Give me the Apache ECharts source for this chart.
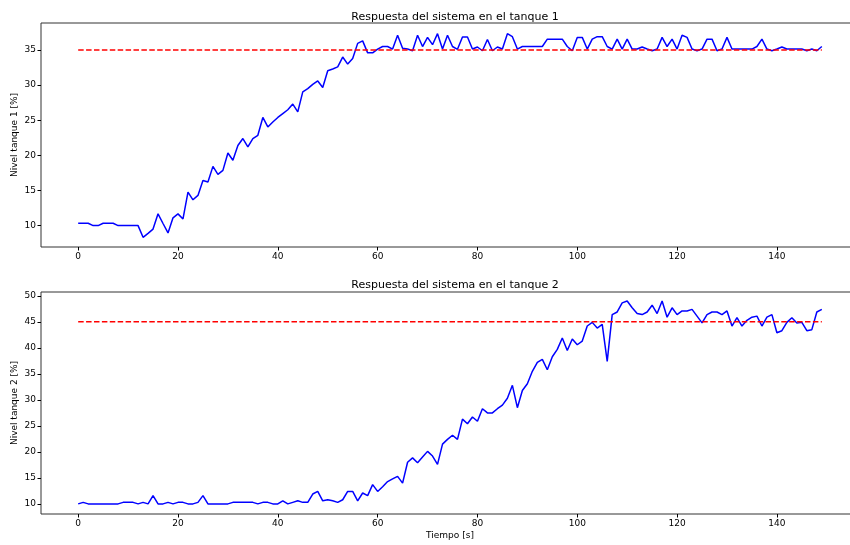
<!DOCTYPE html>
<html>
<head>
    <meta http-equiv=Content-Type content="text/html; charset=utf-8">
    <title>Respuesta del sistema</title>
    <script type="text/javascript" src="https://cdn.jsdelivr.net/npm/echarts@6/dist/echarts.min.js"></script>
    <style>
        html, body { margin: 0; padding: 0; background: #fff; }
        #chartmain { width: 850px; height: 545px; }
    </style>
</head>
<body>
<div id="chartmain"></div>

<script type="text/javascript">
    // nivel del tanque 1 [%], una muestra por segundo
    var nivel1 = [
        10.33, 10.33, 10.33, 10.0, 10.0, 10.33, 10.33, 10.33, 10.0, 10.0,
        10.0, 10.0, 10.0, 8.33, 8.9, 9.5, 11.67, 10.3, 8.95, 11.1,
        11.67, 10.95, 14.76, 13.67, 14.3, 16.43, 16.2, 18.43, 17.3, 17.86,
        20.33, 19.3, 21.4, 22.4, 21.2, 22.4, 22.86, 25.4, 24.05, 24.76,
        25.4, 25.95, 26.5, 27.3, 26.2, 29.05, 29.5, 30.1, 30.6, 29.67,
        32.05, 32.3, 32.6, 34.0, 33.0, 33.8, 35.95, 36.3, 34.6, 34.6,
        35.14, 35.5, 35.5, 35.14, 37.1, 35.24, 35.14, 34.9, 37.1, 35.5,
        36.8, 35.76, 37.33, 35.14, 37.1, 35.5, 35.1, 36.86, 36.86, 35.14,
        35.43, 34.9, 36.5, 34.9, 35.43, 35.14, 37.33, 36.9, 35.14, 35.5,
        35.5, 35.5, 35.5, 35.5, 36.55, 36.55, 36.55, 36.55, 35.5, 34.9,
        36.8, 36.8, 35.14, 36.55, 36.9, 36.9, 35.5, 35.14, 36.55, 35.14,
        36.55, 35.14, 35.14, 35.43, 35.14, 34.9, 35.14, 36.8, 35.5, 36.55,
        35.14, 37.1, 36.8, 35.14, 34.9, 35.14, 36.55, 36.55, 34.9, 35.14,
        36.8, 35.14, 35.14, 35.14, 35.14, 35.14, 35.5, 36.55, 35.14, 34.9,
        35.14, 35.43, 35.14, 35.14, 35.14, 35.14, 34.9, 35.14, 34.9, 35.5
    ];
    // nivel del tanque 2 [%]
    var nivel2 = [
        10.0, 10.3, 10.0, 10.0, 10.0, 10.0, 10.0, 10.0, 10.0, 10.3,
        10.3, 10.3, 10.0, 10.3, 10.0, 11.6, 10.0, 10.0, 10.3, 10.0,
        10.3, 10.3, 10.0, 10.0, 10.3, 11.6, 10.0, 10.0, 10.0, 10.0,
        10.0, 10.3, 10.3, 10.3, 10.3, 10.3, 10.0, 10.3, 10.3, 10.0,
        10.0, 10.6, 10.0, 10.3, 10.6, 10.3, 10.3, 11.9, 12.4, 10.6,
        10.8, 10.6, 10.3, 10.8, 12.4, 12.4, 10.6, 12.1, 11.6, 13.7,
        12.4, 13.3, 14.3, 14.8, 15.3, 14.0, 18.0, 18.85, 17.9, 19.0,
        20.1, 19.2, 17.6, 21.5, 22.4, 23.2, 22.4, 26.3, 25.4, 26.7,
        25.9, 28.3, 27.5, 27.5, 28.3, 29.0, 30.3, 32.8, 28.5, 31.8,
        33.1, 35.5, 37.2, 37.8, 35.8, 38.3, 39.7, 41.9, 39.5, 41.7,
        40.6, 41.3, 44.2, 44.9, 43.8, 44.5, 37.4, 46.4, 46.9, 48.65,
        49.0, 47.7, 46.6, 46.4, 46.9, 48.2, 46.6, 49.0, 45.9, 47.7,
        46.4, 47.1, 47.1, 47.4, 46.1, 44.8, 46.4, 46.9, 46.9, 46.4,
        47.1, 44.2, 45.8, 44.2, 45.3, 45.9, 46.1, 44.2, 45.9, 46.4,
        42.9, 43.3, 44.9, 45.8, 44.8, 44.9, 43.3, 43.5, 46.9, 47.4
    ];
    // referencias
    var ref1 = 35;
    var ref2 = 45;
    var tiempoTicks = [0, 20, 40, 60, 80, 100, 120, 140];
    var ticks1 = [10, 15, 20, 25, 30, 35];
    var ticks2 = [10, 15, 20, 25, 30, 35, 40, 45, 50];

    var fuente = 'DejaVu Sans';
    var tFin = nivel1.length - 1;

    function puntos(arr) {
        return arr.map(function (v, i) { return [i, v]; });
    }

    function ejeX(idx, nombre) {
        return {
            type: 'value', gridIndex: idx,
            min: -7.45, max: 156.45,
            name: nombre, nameLocation: 'middle', nameGap: 17,
            nameTextStyle: {fontFamily: fuente, fontSize: 9, color: '#000'},
            axisLine: {show: false, onZero: false},
            splitLine: {show: false},
            axisTick: {show: true, length: 3.5, customValues: tiempoTicks, lineStyle: {color: '#000'}},
            axisLabel: {customValues: tiempoTicks, fontFamily: fuente, fontSize: 9, color: '#000', margin: 5}
        };
    }

    function ejeY(idx, nombre, min, max, ticks) {
        return {
            type: 'value', gridIndex: idx,
            min: min, max: max,
            name: nombre, nameLocation: 'middle', nameGap: 22, nameMoveOverlap: false,
            nameTextStyle: {fontFamily: fuente, fontSize: 9, color: '#000'},
            axisLine: {show: false, onZero: false},
            splitLine: {show: false},
            axisTick: {show: true, length: 3.5, customValues: ticks, lineStyle: {color: '#000'}},
            axisLabel: {customValues: ticks, fontFamily: fuente, fontSize: 9, color: '#000', margin: 5}
        };
    }

    var myChart = echarts.init(document.getElementById('chartmain'));
    var option = {
        animation: false,
        backgroundColor: '#fff',
        title: [
            {text: 'Respuesta del sistema en el tanque 1', left: 450, top: 7, textAlign: 'center',
                textStyle: {fontFamily: fuente, fontSize: 11, fontWeight: 'normal', color: '#000'}},
            {text: 'Respuesta del sistema en el tanque 2', left: 450, top: 275, textAlign: 'center',
                textStyle: {fontFamily: fuente, fontSize: 11, fontWeight: 'normal', color: '#000'}}
        ],
        grid: [
            {left: 41, top: 23, width: 818, height: 224, show: true, borderColor: '#333', borderWidth: 1,
                outerBoundsMode: 'none'},
            {left: 41, top: 292, width: 818, height: 222, show: true, borderColor: '#333', borderWidth: 1,
                outerBoundsMode: 'none'}
        ],
        xAxis: [ejeX(0, ''), ejeX(1, 'Tiempo [s]')],
        yAxis: [
            ejeY(0, 'Nivel tanque 1 [%]', 6.95, 38.85, ticks1),
            ejeY(1, 'Nivel tanque 2 [%]', 8.06, 50.74, ticks2)
        ],
        series: [
            {
                type: 'line', xAxisIndex: 0, yAxisIndex: 0,
                data: puntos(nivel1), symbol: 'none',
                lineStyle: {color: '#0000ff', width: 1.5}
            },
            {
                type: 'line', xAxisIndex: 0, yAxisIndex: 0,
                data: [[0, ref1], [tFin, ref1]], symbol: 'none',
                lineStyle: {color: '#ff0000', width: 1.5, type: [5.5, 2.4]}
            },
            {
                type: 'line', xAxisIndex: 1, yAxisIndex: 1,
                data: puntos(nivel2), symbol: 'none',
                lineStyle: {color: '#0000ff', width: 1.5}
            },
            {
                type: 'line', xAxisIndex: 1, yAxisIndex: 1,
                data: [[0, ref2], [tFin, ref2]], symbol: 'none',
                lineStyle: {color: '#ff0000', width: 1.5, type: [5.5, 2.4]}
            }
        ]
    };
    myChart.setOption(option);
</script>
</body>
</html>
